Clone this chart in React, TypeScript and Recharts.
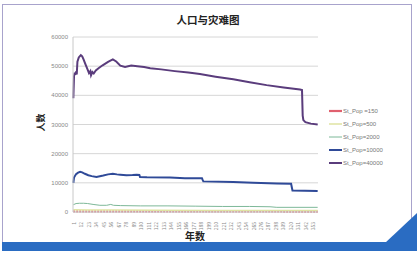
import { LineChart, Line, XAxis, YAxis, CartesianGrid, Legend } from 'recharts';

// 年份刻度 (Excel 风格, 每 11 年一个标签)
const xTicks = [1, 12, 23, 34, 45, 56, 67, 78, 89, 100, 111, 122, 133, 144, 155, 166, 177, 188, 199, 210, 221, 232, 243, 254, 265, 276, 287, 298, 309, 320, 331, 342, 353];
const yTicks = [0, 10000, 20000, 30000, 40000, 50000, 60000];

// St_Pop=40000
const years40000 = [1, 2, 3, 4, 5, 6, 7, 9, 12, 14, 16, 19, 22, 24, 26, 27, 29, 31, 34, 38, 44, 52, 59, 64, 70, 77, 86, 95, 105, 114, 130, 150, 170, 187, 210, 236, 260, 285, 310, 334, 337, 338, 339, 342, 350, 360];
const pop40000 = [39000, 46500, 47800, 47000, 48200, 47200, 51500, 53000, 53800, 53400, 52300, 50500, 48800, 47600, 48300, 46900, 48000, 47500, 48500, 49300, 50300, 51500, 52300, 51600, 50200, 49700, 50200, 50000, 49700, 49300, 48900, 48300, 47800, 47300, 46400, 45500, 44500, 43500, 42700, 42000, 41800, 33000, 31500, 30800, 30300, 30000];

// St_Pop=10000
const years10000 = [1, 2, 5, 8, 11, 14, 18, 23, 28, 35, 45, 52, 59, 65, 70, 79, 88, 94, 98, 99, 109, 143, 165, 190, 191, 192, 236, 265, 300, 321, 322, 323, 360];
const pop10000 = [10000, 11800, 13000, 13500, 13800, 13600, 13100, 12600, 12300, 12000, 12500, 12900, 13100, 12900, 12800, 12600, 12700, 12800, 12700, 12000, 11900, 11800, 11600, 11600, 11000, 10500, 10300, 10000, 9800, 9700, 8500, 7400, 7200];

// St_Pop=2000
const years2000 = [1, 5, 10, 16, 22, 30, 40, 50, 56, 60, 70, 100, 140, 180, 220, 260, 290, 300, 360];
const pop2000 = [2500, 2900, 3000, 3000, 2900, 2600, 2300, 2300, 2600, 2300, 2200, 2100, 2100, 2000, 1900, 1900, 1800, 1600, 1600];

// St_Pop=500
const years500 = [1, 20, 60, 120, 200, 280, 360];
const pop500 = [800, 700, 650, 600, 550, 550, 500];

// St_Pop=150
const years150 = [1, 60, 120, 200, 280, 360];
const pop150 = [250, 200, 200, 180, 170, 150];

const toRows = (years: number[], values: number[]) => years.map((year, i) => ({ year, value: values[i] }));

const series = [
  { name: 'St_Pop =150', data: toRows(years150, pop150), color: '#e0606e', width: 2.2, dash: '1.5 1.5' },
  { name: 'St_Pop=500', data: toRows(years500, pop500), color: '#dfe3a2', width: 1.5, dash: undefined },
  { name: 'St_Pop=2000', data: toRows(years2000, pop2000), color: '#7db898', width: 1, dash: undefined },
  { name: 'St_Pop=10000', data: toRows(years10000, pop10000), color: '#2f4a98', width: 2, dash: undefined },
  { name: 'St_Pop=40000', data: toRows(years40000, pop40000), color: '#5a3c7c', width: 2, dash: undefined },
];

const XTick = (props: any) => {
  const { x, y, payload } = props;
  return (
    <text x={x} y={y + 2} transform={`rotate(-90 ${x} ${y + 2})`} textAnchor="end" dominantBaseline="central" fontSize={5} fill="#888">
      {payload.value}
    </text>
  );
};

const LegendBox = () => (
  <div style={{ fontFamily: 'Liberation Sans, Arial, sans-serif', fontSize: 6, color: '#777' }}>
    {series.map((s) => (
      <div key={s.name} style={{ display: 'flex', alignItems: 'center', height: 13.2 }}>
        <svg width={13} height={6}>
          <line x1={0} y1={3} x2={13} y2={3} stroke={s.color} strokeWidth={s.width} />
        </svg>
        <span style={{ marginLeft: 1 }}>{s.name}</span>
      </div>
    ))}
  </div>
);

export default function App() {
  return (
    <div style={{ position: 'relative', width: 420, height: 254, background: '#fff', fontFamily: 'Noto Sans CJK SC, sans-serif' }}>
      <style>{`body{margin:0}`}</style>
      <div style={{ position: 'absolute', left: 2, top: 4, width: 410, height: 246, border: '1.5px solid #a8a3cc', boxSizing: 'border-box' }} />
      <div style={{ position: 'absolute', left: 2, top: 242, width: 415, height: 9, background: '#2a6cc2' }} />
      <svg style={{ position: 'absolute', left: 0, top: 0 }} width={420} height={254}>
        <polygon points="385,243 417,213 417,243" fill="#2a6cc2" />
      </svg>
      <div style={{ position: 'absolute', left: 0, width: 416, top: 12, textAlign: 'center', fontSize: 10.5, fontWeight: 700, color: '#222' }}>
        人口与灾难图
      </div>
      <div style={{ position: 'absolute', left: 185, top: 228, fontSize: 10, fontWeight: 700, color: '#222' }}>年数</div>
      <div style={{ position: 'absolute', left: 31, top: 116, fontSize: 9, fontWeight: 700, color: '#222', transform: 'rotate(-90deg)', transformOrigin: 'center' }}>人数</div>
      <div style={{ position: 'absolute', left: 0, top: 0 }}>
        <LineChart width={420} height={254} margin={{ top: 37, right: 102, left: 0, bottom: 12 }}>
          <CartesianGrid horizontal vertical={false} stroke="#d6d6d6" />
          <XAxis
            dataKey="year"
            type="number"
            domain={[0.5, 360.5]}
            ticks={xTicks}
            interval={0}
            height={30}
            tick={<XTick />}
            tickLine={false}
            axisLine={{ stroke: '#c8c8c8' }}
            allowDuplicatedCategory={false}
          />
          <YAxis
            type="number"
            domain={[0, 60000]}
            ticks={yTicks}
            width={73}
            tickSize={0}
            tickMargin={5}
            tickLine={false}
            axisLine={{ stroke: '#c8c8c8' }}
            tick={{ fontSize: 6, fill: '#888', fontFamily: 'Liberation Sans, Arial, sans-serif' }}
          />
          <Legend
            layout="vertical"
            align="center"
            verticalAlign="middle"
            content={<LegendBox />}
            wrapperStyle={{ position: 'absolute', left: 329, top: 104, width: 80 }}
          />
          {series.map((s) => (
            <Line
              key={s.name}
              data={s.data}
              dataKey="value"
              name={s.name}
              type="linear"
              stroke={s.color}
              strokeWidth={s.width}
              strokeDasharray={s.dash}
              dot={false}
              isAnimationActive={false}
            />
          ))}
        </LineChart>
      </div>
    </div>
  );
}
